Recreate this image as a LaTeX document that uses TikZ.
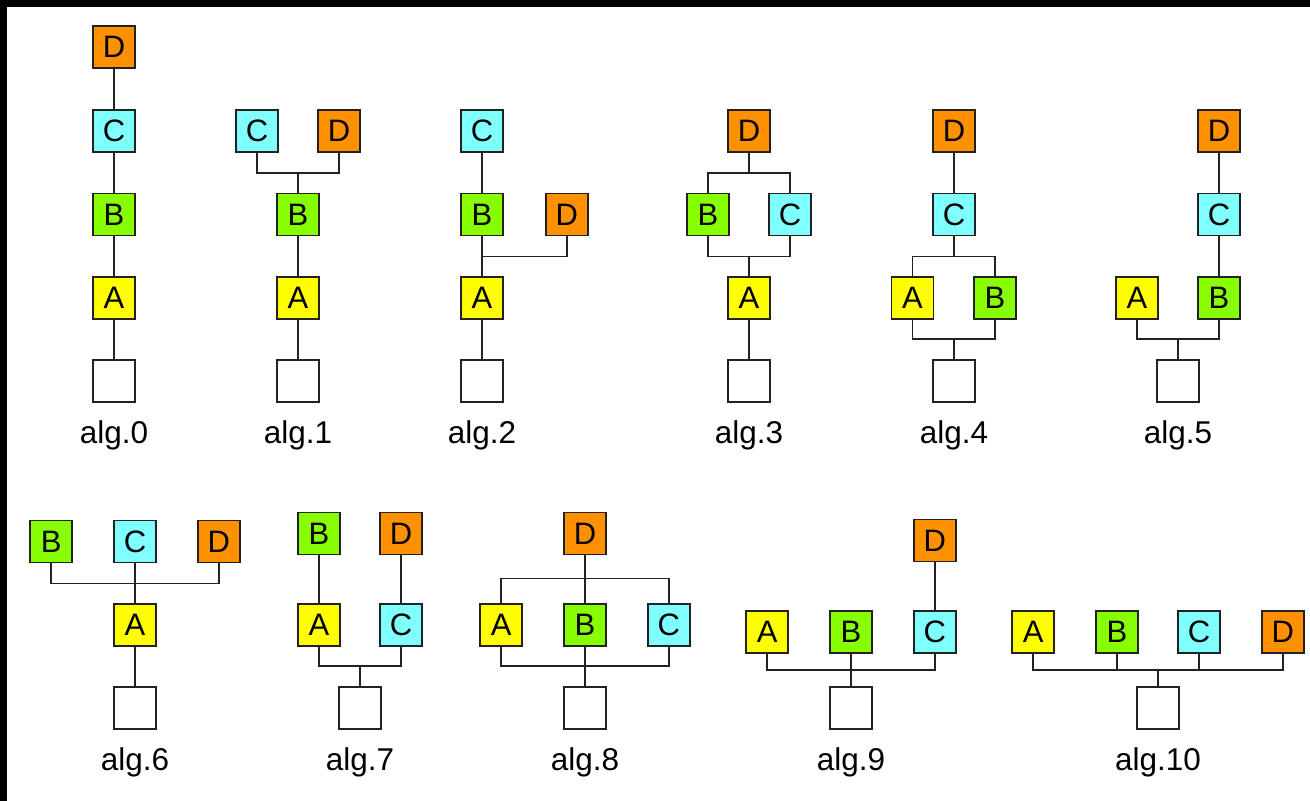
\documentclass[tikz,border=0pt]{standalone}
\usepackage{fontspec}
\setmainfont{Liberation Sans}
\usetikzlibrary{positioning}
\definecolor{ayel}{HTML}{FFFF00}
\definecolor{bgrn}{HTML}{88FF00}
\definecolor{ccyn}{HTML}{80FFFF}
\definecolor{dorg}{HTML}{FF9100}
\definecolor{line}{HTML}{222222}

\begin{document}
\begin{tikzpicture}[x=1pt,y=-1pt, node distance=40pt, every node/.style={font=\fontsize{31}{31}\selectfont}, blk/.style={draw=line,line width=1.7pt,minimum size=42pt,inner sep=0pt}, na/.style={blk,fill=ayel}, nb/.style={blk,fill=bgrn}, nc/.style={blk,fill=ccyn}, nd/.style={blk,fill=dorg}, hole/.style={blk,fill=white}, lab/.style={font=\fontsize{31.5}{31.5}\selectfont,inner sep=0pt}, w/.style={draw=line,line width=1.8pt}]
\useasboundingbox (0,0) rectangle (1310,801);
\fill[white] (0,0) rectangle (1310,801);
\fill[black] (0,0) rectangle (1310,7);\fill[black] (0,0) rectangle (7,801);
% alg.0
\node[hole] (e0) at (114,381) {};
\node[na,above=39pt of e0] (a0) {A};
\node[nb,above=of a0] (b0) {B};
\node[nc,above=of b0] (c0) {C};
\node[nd,above=of c0] (d0) {D};
\node[lab,below=18pt of e0] (l0) {alg.0};
\draw[w] (d0)--(c0);\draw[w] (c0)--(b0);\draw[w] (b0)--(a0);\draw[w] (a0)--(e0);
% alg.1
\node[hole] (e1) at (298,381) {};
\node[na,above=39pt of e1] (a1) {A};
\node[nb,above=of a1] (b1) {B};
\node[nc,above=of b1,xshift=-41pt] (c1) {C};
\node[nd,above=of b1,xshift=41pt] (d1) {D};
\coordinate[above=20pt of b1] (j1);
\node[lab,below=18pt of e1] (l1) {alg.1};
\draw[w] (c1.south) |- (j1) -| (d1.south);\draw[w] (j1)--(b1);
\draw[w] (b1)--(a1);\draw[w] (a1)--(e1);
% alg.2
\node[hole] (e2) at (482,381) {};
\node[na,above=39pt of e2] (a2) {A};
\node[nb,above=of a2] (b2) {B};
\node[nc,above=of b2] (c2) {C};
\node[nd,right=41pt of b2] (d2) {D};
\coordinate[below=20pt of b2] (j2);
\node[lab,below=18pt of e2] (l2) {alg.2};
\draw[w] (c2)--(b2);\draw[w] (b2)--(a2);\draw[w] (d2.south) |- (j2);\draw[w] (a2)--(e2);
% alg.3
\node[hole] (e3) at (749,381) {};
\node[na,above=39pt of e3] (a3) {A};
\node[nb,above=of a3,xshift=-41pt] (b3) {B};
\node[nc,above=of a3,xshift=41pt] (c3) {C};
\node[nd,above=of b3,xshift=41pt] (d3) {D};
\coordinate[below=20pt of d3] (j3a);
\coordinate[above=20pt of a3] (j3b);
\node[lab,below=18pt of e3] (l3) {alg.3};
\draw[w] (b3.north) |- (j3a) -| (c3.north);\draw[w] (d3)--(j3a);
\draw[w] (b3.south) |- (j3b) -| (c3.south);\draw[w] (j3b)--(a3);\draw[w] (a3)--(e3);
% alg.4
\node[hole] (e4) at (954,381) {};
\node[na,above=39pt of e4,xshift=-41.5pt] (a4) {A};
\node[nb,above=39pt of e4,xshift=41pt] (b4) {B};
\node[nc,above=of a4,xshift=41.5pt] (c4) {C};
\node[nd,above=of c4] (d4) {D};
\coordinate[below=20pt of c4] (j4a);
\coordinate[above=20pt of e4] (j4b);
\node[lab,below=18pt of e4] (l4) {alg.4};
\draw[w] (d4)--(c4);\draw[w] (c4)--(j4a);
\draw[w] (a4.north) |- (j4a) -| (b4.north);
\draw[w] (a4.south) |- (j4b) -| (b4.south);\draw[w] (j4b)--(e4);
% alg.5
\node[hole] (e5) at (1178,381) {};
\node[na,above=39pt of e5,xshift=-41pt] (a5) {A};
\node[nb,above=39pt of e5,xshift=41pt] (b5) {B};
\node[nc,above=of b5] (c5) {C};
\node[nd,above=of c5] (d5) {D};
\coordinate[above=20pt of e5] (j5);
\node[lab,below=18pt of e5] (l5) {alg.5};
\draw[w] (d5)--(c5);\draw[w] (c5)--(b5);
\draw[w] (a5.south) |- (j5) -| (b5.south);\draw[w] (j5)--(e5);
% alg.6
\node[hole] (e6) at (135,708) {};
\node[na,above=39pt of e6] (a6) {A};
\node[nc,above=of a6] (c6) {C};
\node[nb,left=40pt of c6] (b6) {B};
\node[nd,right=40pt of c6] (d6) {D};
\coordinate[above=20pt of a6] (j6);
\node[lab,below=18pt of e6] (l6) {alg.6};
\draw[w] (b6.south) |- (j6) -| (d6.south);\draw[w] (c6)--(a6);\draw[w] (a6)--(e6);
% alg.7
\node[hole] (e7) at (360,708) {};
\node[na,above=39pt of e7,xshift=-41pt] (a7) {A};
\node[nc,above=39pt of e7,xshift=41pt] (c7) {C};
\node[nb,above=48pt of a7] (b7) {B};
\node[nd,above=48pt of c7] (d7) {D};
\coordinate[above=20pt of e7] (j7);
\node[lab,below=18pt of e7] (l7) {alg.7};
\draw[w] (b7)--(a7);\draw[w] (d7)--(c7);
\draw[w] (a7.south) |- (j7) -| (c7.south);\draw[w] (j7)--(e7);
% alg.8
\node[hole] (e8) at (585,708) {};
\node[nb,above=39pt of e8] (b8) {B};
\node[na,left=40pt of b8] (a8) {A};
\node[nc,right=40pt of b8] (c8) {C};
\node[nd,above=48pt of b8] (d8) {D};
\coordinate[below=23pt of d8] (j8a);
\coordinate[above=20pt of e8] (j8b);
\node[lab,below=18pt of e8] (l8) {alg.8};
\draw[w] (a8.north) |- (j8a) -| (c8.north);\draw[w] (d8)--(b8);
\draw[w] (a8.south) |- (j8b) -| (c8.south);\draw[w] (b8)--(e8);
% alg.9
\node[hole] (e9) at (851,708) {};
\node[nb,above=32pt of e9] (b9) {B};
\node[na,left=40pt of b9] (a9) {A};
\node[nc,right=40pt of b9] (c9) {C};
\node[nd,above=48pt of c9] (d9) {D};
\coordinate[above=16pt of e9] (j9);
\node[lab,below=18pt of e9] (l9) {alg.9};
\draw[w] (d9)--(c9);
\draw[w] (a9.south) |- (j9) -| (c9.south);\draw[w] (b9)--(e9);
% alg.10
\node[hole] (e10) at (1158,708) {};
\node[nb,above=32pt of e10,xshift=-41pt] (b10) {B};
\node[nc,above=32pt of e10,xshift=41pt] (c10) {C};
\node[na,left=40pt of b10] (a10) {A};
\node[nd,right=40pt of c10] (d10) {D};
\coordinate[above=16pt of e10] (j10);
\node[lab,below=18pt of e10] (l10) {alg.10};
\draw[w] (a10.south) |- (j10) -| (d10.south);
\draw[w] (b10)--(b10|-j10);\draw[w] (c10)--(c10|-j10);\draw[w] (j10)--(e10);
\end{tikzpicture}
\end{document}
